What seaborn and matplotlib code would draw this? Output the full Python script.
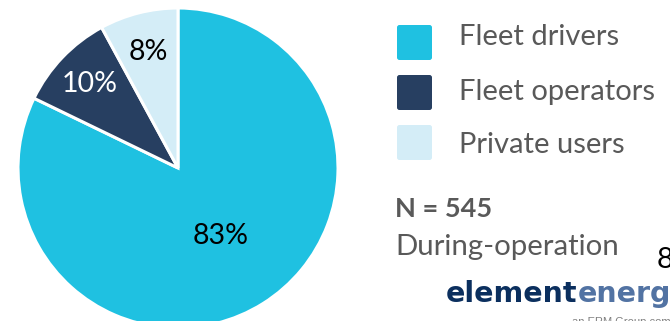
import numpy as np
import matplotlib
matplotlib.use("Agg")
import matplotlib.pyplot as plt
from matplotlib.patches import FancyBboxPatch
import seaborn as sns

# Survey respondents by user group
categories = ["Fleet drivers", "Fleet operators", "Private users"]
shares = [83, 10, 8]
sample_note = "N = 545"
phase_note = "During-operation"
page_number = "8"

sns.set_theme(style="white")
plt.rcParams["font.family"] = ["Lato", "DejaVu Sans"]

palette = sns.color_palette(["#1fc1e1", "#273f61", "#d4edf7"])
label_colors = ["black", "white", "black"]
label_radius = [0.5, 0.76, 0.75]

W, H = 670, 321
fig = plt.figure(figsize=(W / 100, H / 100), dpi=100)
fig.patch.set_facecolor("white")

# Pie axes: centre (178, 168) px, radius 160 px
cx, cy, r = 178, 168, 160
ax = fig.add_axes([(cx - r) / W, (H - cy - r) / H, 2 * r / W, 2 * r / H])
wedges, _ = ax.pie(shares, colors=palette, startangle=90, counterclock=False,
                   wedgeprops=dict(edgecolor="white", linewidth=2.2))
ax.set_xlim(-1, 1)
ax.set_ylim(-1, 1)
ax.set_aspect("equal")
ax.axis("off")

for w, val, col, rad in zip(wedges, shares, label_colors, label_radius):
    w.set_clip_on(False)
    mid = np.deg2rad((w.theta1 + w.theta2) / 2)
    ax.text(rad * np.cos(mid), rad * np.sin(mid), f"{val}%", ha="center",
            va="center", fontsize=20.5, color=col)

# Overlay in pixel coordinates for the legend and notes
ov = fig.add_axes([0, 0, 1, 1])
ov.set_xlim(0, W)
ov.set_ylim(H, 0)
ov.axis("off")
ov.patch.set_alpha(0)

grey = "#595959"
box_top = [25, 75, 125]
text_base = [45, 100, 153]
for name, col, yt, yb in zip(categories, palette, box_top, text_base):
    ov.add_patch(FancyBboxPatch((397, yt), 35, 35,
                                boxstyle="round,pad=0,rounding_size=2.5",
                                facecolor=col, edgecolor="none"))
    ov.text(459, yb, name, ha="left", va="baseline", fontsize=21, color=grey)

ov.text(395, 217, sample_note, ha="left", va="baseline", fontsize=19.5,
        fontweight="bold", color=grey)
ov.text(395, 255, phase_note, ha="left", va="baseline", fontsize=21.2,
        color=grey)

# Page number and company mark along the right edge
ov.text(657, 268, page_number, ha="left", va="baseline", fontsize=21,
        color="black")
t1 = ov.text(446, 302, "element", ha="left", va="baseline", fontsize=20.5,
             fontweight="bold", color="#0b2f5e", family=["DejaVu Sans"])
fig.canvas.draw()
x_end = t1.get_window_extent().x1
xe, _ = ov.transData.inverted().transform((x_end, 0))
ov.text(xe, 302, "energy", ha="left", va="baseline", fontsize=20.5,
        fontweight="bold", color="#5273a3", family=["DejaVu Sans"])
ov.text(572, 325, "an ERM Group company", ha="left", va="baseline",
        fontsize=8, color="#7f7f7f", family=["Liberation Sans"])

fig.savefig("out.png", dpi=100, facecolor="white")
